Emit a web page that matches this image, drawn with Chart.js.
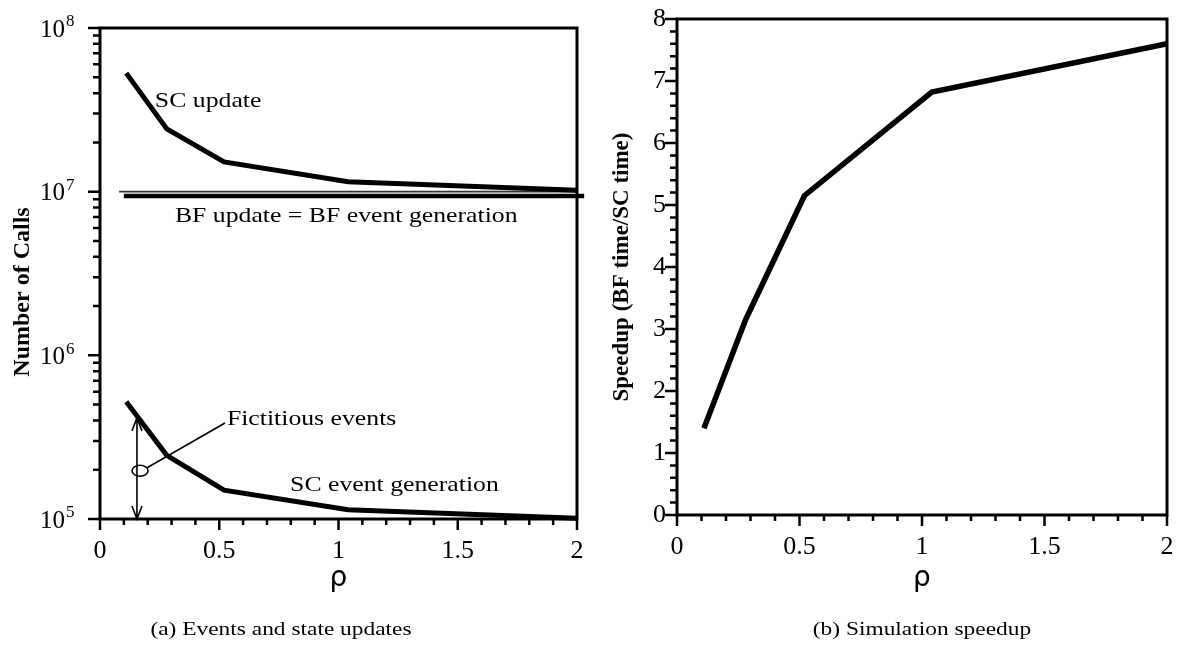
<!DOCTYPE html>
<html>
<head>
<meta charset="utf-8">
<script src="https://cdn.jsdelivr.net/npm/chart.js@4.4.1/dist/chart.umd.min.js"></script>
<style>
  body { margin: 0; background: #fff; width: 1179px; height: 646px; position: relative; overflow: hidden; font-family: "Liberation Serif", serif; }
  .panel { position: absolute; top: 0; }
  #panel-a { left: 0; width: 595px; height: 646px; }
  #panel-b { left: 595px; width: 584px; height: 646px; }
  .caption { position: absolute; top: 619px; font-size: 18px; color: #000; white-space: nowrap; transform: translateX(-50%) scaleX(1.3); }
</style>
</head>
<body>
<div class="panel" id="panel-a"><canvas id="chart-a" width="595" height="646"></canvas></div>
<div class="panel" id="panel-b"><canvas id="chart-b" width="584" height="646"></canvas></div>
<div class="caption" style="left:281px">(a) Events and state updates</div>
<div class="caption" style="left:922px">(b) Simulation speedup</div>
<script>
(function () {
  // values
  var rho = [0.11, 0.28, 0.52, 1.04, 2];
  var scUpdate = [5.3e7, 2.42e7, 1.52e7, 1.15e7, 1.02e7];
  var scEventGen = [5.2e5, 2.45e5, 1.5e5, 1.14e5, 1.01e5];
  var bfRho = [0.08, 2.0];
  var bfUpdate = [1.0e7, 1.0e7];
  var bfEventRho = [0.1, 2.03];
  var bfEventGen = [9.4e6, 9.4e6];
  var speedup = [1.4, 3.15, 5.15, 6.82, 7.6];

  // axis ticks
  var xTicks = [0, 0.1, 0.2, 0.3, 0.4, 0.5, 0.6, 0.7, 0.8, 0.9, 1, 1.1, 1.2, 1.3, 1.4, 1.5, 1.6, 1.7, 1.8, 1.9, 2];
  var xTickLabels = ['0', '0.5', '1', '1.5', '2'];
  var logDecades = [1e5, 1e6, 1e7, 1e8];
  var logExponents = ['5', '6', '7', '8'];
  var logMinorMults = [2, 3, 4, 5, 6, 7, 8, 9];
  var speedTickLabels = ['0', '1', '2', '3', '4', '5', '6', '7', '8'];
  var speedMinorStep = 0.2;

  // fictitious-events marker (data coordinates)
  var fictArrow = { x: 0.155, top: 4.15e5, bottom: 1e5 };
  var fictEllipse = { x: 0.168, y: 1.97e5 };
  var fictLeader = { x: 0.524, y: 3.86e5 };

  var SERIF = '"Liberation Serif", "Times New Roman", serif';

  function xy(xs, ys) {
    return xs.map(function (x, i) { return { x: x, y: ys[i] }; });
  }

  function isXMajor(v) { return xTickLabels.indexOf(String(+v.toFixed(1))) !== -1; }

  var logTickValues = [];
  logDecades.forEach(function (d, i) {
    logTickValues.push(d);
    if (i < logDecades.length - 1) logMinorMults.forEach(function (m) { logTickValues.push(d * m); });
  });

  var speedTickValues = [];
  for (var s = 0; s <= 8 * 5; s++) speedTickValues.push(+(s * speedMinorStep).toFixed(1));

  function stretchText(ctx, txt, x, y, size) {
    ctx.save();
    ctx.translate(x, y);
    ctx.scale(1.17, 1);
    ctx.font = size + 'px ' + SERIF;
    ctx.fillStyle = '#000';
    ctx.textBaseline = 'alphabetic';
    ctx.textAlign = 'left';
    ctx.fillText(txt, 0, 0);
    ctx.restore();
  }

  // frame + outward ticks, drawn from the chart's own scales
  var axisDeco = {
    id: 'axisDeco',
    afterDraw: function (chart, args, opts) {
      var ctx = chart.ctx, area = chart.chartArea;
      var xs = chart.scales.x, ys = chart.scales.y;
      ctx.save();
      ctx.strokeStyle = '#000';
      ctx.lineWidth = 2.5;
      ctx.beginPath();
      xs.ticks.forEach(function (t) {
        var p = xs.getPixelForValue(t.value);
        var len = isXMajor(t.value) ? 11 : 6;
        ctx.moveTo(p, area.bottom);
        ctx.lineTo(p, area.bottom + len);
      });
      ys.ticks.forEach(function (t) {
        var p = ys.getPixelForValue(t.value);
        var len = opts.yMajor(t.value) ? 12 : 7;
        ctx.moveTo(area.left, p);
        ctx.lineTo(area.left - len, p);
      });
      ctx.stroke();
      ctx.lineWidth = 3;
      ctx.strokeRect(area.left, area.top, area.right - area.left, area.bottom - area.top);
      ctx.restore();
    }
  };

  var notesA = {
    id: 'notesA',
    afterDraw: function (chart) {
      var ctx = chart.ctx, xs = chart.scales.x, ys = chart.scales.y;
      ctx.save();
      ctx.fillStyle = '#000';
      // y tick labels 10^n
      logDecades.forEach(function (d, i) {
        var py = ys.getPixelForValue(d);
        ctx.font = '25px ' + SERIF;
        ctx.textAlign = 'right';
        ctx.textBaseline = 'middle';
        ctx.fillText('10', 65, py + 2);
        ctx.font = '17px ' + SERIF;
        ctx.textAlign = 'left';
        ctx.fillText(logExponents[i], 66, py - 6);
      });
      // y axis title
      ctx.translate(23, 292);
      ctx.rotate(-Math.PI / 2);
      ctx.font = 'bold 24px ' + SERIF;
      ctx.textAlign = 'center';
      ctx.textBaseline = 'middle';
      ctx.fillText('Number of Calls', 0, 0);
      ctx.restore();

      stretchText(ctx, 'SC update', xs.getPixelForValue(0.23), ys.getPixelForValue(3.29e7), 22);
      stretchText(ctx, 'BF update = BF event generation', xs.getPixelForValue(0.314), ys.getPixelForValue(6.53e6), 22);
      stretchText(ctx, 'Fictitious events', xs.getPixelForValue(0.532), ys.getPixelForValue(3.76e5), 22);
      stretchText(ctx, 'SC event generation', xs.getPixelForValue(0.797), ys.getPixelForValue(1.49e5), 22);

      // double-headed arrow, ellipse and leader
      var ax = xs.getPixelForValue(fictArrow.x);
      var at = ys.getPixelForValue(fictArrow.top);
      var ab = ys.getPixelForValue(fictArrow.bottom);
      var ex = xs.getPixelForValue(fictEllipse.x);
      var ey = ys.getPixelForValue(fictEllipse.y);
      var lx = xs.getPixelForValue(fictLeader.x);
      var ly = ys.getPixelForValue(fictLeader.y);
      ctx.save();
      ctx.strokeStyle = '#000';
      ctx.lineWidth = 1.6;
      ctx.beginPath();
      ctx.moveTo(ax, at); ctx.lineTo(ax, ab);
      ctx.moveTo(ax - 5, at + 13); ctx.lineTo(ax, at); ctx.lineTo(ax + 5, at + 13);
      ctx.moveTo(ax - 5, ab - 13); ctx.lineTo(ax, ab); ctx.lineTo(ax + 5, ab - 13);
      ctx.stroke();
      ctx.beginPath();
      ctx.ellipse(ex, ey, 8, 5.5, 0, 0, Math.PI * 2);
      ctx.stroke();
      ctx.beginPath();
      ctx.moveTo(ex + 7, ey - 3);
      ctx.lineTo(lx, ly);
      ctx.stroke();
      ctx.restore();
    }
  };

  var xScale = function (boxHeight) {
    return {
      type: 'linear',
      min: 0,
      max: 2,
      afterBuildTicks: function (scale) {
        scale.ticks = xTicks.map(function (v) { return { value: v }; });
      },
      afterFit: function (scale) {
        scale.height = boxHeight;
        scale.paddingLeft = 0;
        scale.paddingRight = 0;
      },
      grid: { display: false, drawTicks: false },
      border: { display: false },
      ticks: {
        autoSkip: false,
        maxRotation: 0,
        padding: 17,
        color: '#000',
        font: { family: SERIF, size: 26 },
        callback: function (v) {
          var lbl = String(+(+v).toFixed(1));
          return xTickLabels.indexOf(lbl) !== -1 ? lbl : '';
        }
      },
      title: {
        display: true,
        text: 'ρ',
        color: '#000',
        font: { family: '"DejaVu Sans", sans-serif', size: 28 },
        padding: { top: 0, bottom: 50 }
      }
    };
  };

  var lineStyle = { fill: false, pointRadius: 0, borderColor: '#000', tension: 0, clip: false };

  new Chart(document.getElementById('chart-a'), {
    type: 'line',
    data: {
      datasets: [
        Object.assign({ label: 'SC update', data: xy(rho, scUpdate), borderWidth: 5 }, lineStyle),
        { label: 'BF update', data: xy(bfRho, bfUpdate), borderWidth: 1.8, borderColor: '#333', fill: false, pointRadius: 0, clip: false },
        Object.assign({ label: 'BF event generation', data: xy(bfEventRho, bfEventGen), borderWidth: 4.5 }, lineStyle),
        Object.assign({ label: 'SC event generation', data: xy(rho, scEventGen), borderWidth: 5 }, lineStyle)
      ]
    },
    options: {
      responsive: false,
      animation: false,
      devicePixelRatio: 1,
      layout: { padding: { top: 28, right: 18, left: 0, bottom: 0 } },
      plugins: {
        legend: { display: false },
        tooltip: { enabled: false },
        axisDeco: { yMajor: function (v) { return logDecades.indexOf(v) !== -1; } }
      },
      scales: {
        x: xScale(127),
        y: {
          type: 'logarithmic',
          min: 1e5,
          max: 1e8,
          afterBuildTicks: function (scale) {
            scale.ticks = logTickValues.map(function (v) { return { value: v }; });
          },
          afterFit: function (scale) {
            scale.width = 100;
            scale.paddingTop = 0;
            scale.paddingBottom = 0;
          },
          grid: { display: false, drawTicks: false },
          border: { display: false },
          ticks: { callback: function () { return ''; } }
        }
      }
    },
    plugins: [axisDeco, notesA]
  });

  new Chart(document.getElementById('chart-b'), {
    type: 'line',
    data: {
      datasets: [
        Object.assign({ label: 'Speedup', data: xy(rho, speedup), borderWidth: 5.5 }, lineStyle)
      ]
    },
    options: {
      responsive: false,
      animation: false,
      devicePixelRatio: 1,
      layout: { padding: { top: 19, right: 12, left: 0, bottom: 0 } },
      plugins: {
        legend: { display: false },
        tooltip: { enabled: false },
        axisDeco: { yMajor: function (v) { return Math.abs(v - Math.round(v)) < 1e-6; } }
      },
      scales: {
        x: xScale(131),
        y: {
          type: 'linear',
          min: 0,
          max: 8,
          afterBuildTicks: function (scale) {
            scale.ticks = speedTickValues.map(function (v) { return { value: v }; });
          },
          afterFit: function (scale) {
            scale.width = 82;
            scale.paddingTop = 0;
            scale.paddingBottom = 0;
          },
          grid: { display: false, drawTicks: false },
          border: { display: false },
          ticks: {
            autoSkip: false,
            padding: 11,
            color: '#000',
            font: { family: SERIF, size: 26 },
            callback: function (v) {
              var lbl = String(+(+v).toFixed(1));
              return speedTickLabels.indexOf(lbl) !== -1 ? lbl : '';
            }
          },
          title: {
            display: true,
            text: 'Speedup (BF time/SC time)',
            color: '#000',
            font: { family: SERIF, size: 23, weight: 'bold' },
            padding: { top: 13, bottom: 0 }
          }
        }
      }
    },
    plugins: [axisDeco]
  });
})();
</script>
</body>
</html>
